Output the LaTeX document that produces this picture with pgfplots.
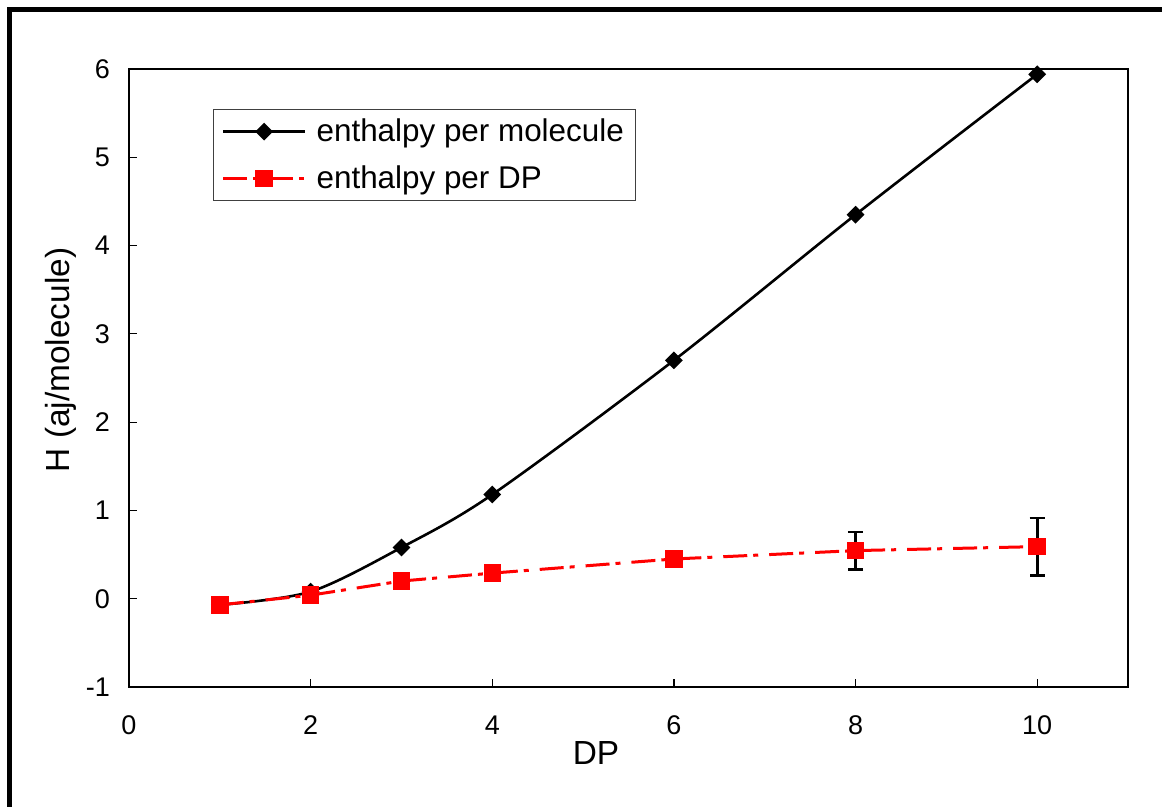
\documentclass[border=0pt]{standalone}
\usepackage{pgfplots}
\pgfplotsset{compat=1.18}
\usepackage{fontspec}
\setmainfont{Liberation Sans}
\begin{document}
\begin{tikzpicture}
\useasboundingbox (-64.5pt,-60pt) rectangle (516.5pt,343.5pt);
\draw[line width=2.5pt, line cap=rect] (-59.75pt,-70pt) -- (-59.75pt,338.5pt) -- (530pt,338.5pt);
\begin{axis}[
  at={(0,0)}, anchor=south west,
  scale only axis,
  width=499.5pt, height=309pt,
  xmin=0, xmax=11, ymin=-1, ymax=6,
  xtick={0,2,4,6,8,10},
  ytick={-1,0,1,2,3,4,5,6},
  xtick pos=bottom, ytick pos=left,
  tick align=inside,
  major tick length=4pt,
  tick style={black, line width=0.6pt},
  axis line style={line width=0.7pt},
  /pgf/number format/assume math mode=true,
  ticklabel style={font=\fontsize{13.5}{15}\selectfont},
  xticklabel style={yshift=-11pt},
  yticklabel style={xshift=-6pt},
  xlabel={DP},
  ylabel={H (aj/molecule)},
  every axis x label/.style={at={(axis description cs:0.4675,-0.076)}, anchor=north, font=\fontsize{16.7}{19}\selectfont},
  every axis y label/.style={at={(axis description cs:-0.046,0.529)}, anchor=south, rotate=90, font=\fontsize{16.7}{19}\selectfont},
  legend style={at={(0.0841,0.935)}, anchor=north west, draw=black!75, line width=0.6pt,
    font=\fontsize{15.7}{18}\selectfont, inner xsep=4pt, inner ysep=2.5pt, row sep=6.5pt},
  legend cell align=left,
  legend image code/.code={\draw[mark repeat=2,mark phase=2] plot coordinates {(3pt,0pt) (23.5pt,0pt) (44pt,0pt)}; \path (47pt,0pt);},
]
\addplot[black, line width=1.3pt, smooth, tension=0.5, mark=square*, mark size=2.5pt,
  mark options={rotate=45, solid, fill=black}]
  coordinates {(1,-0.07) (2,0.08) (3,0.58) (4,1.18) (6,2.70) (8,4.35) (10,5.94)};
\addlegendentry{enthalpy per molecule}
\addplot[red, line width=1.5pt, dash pattern=on 12pt off 3pt on 2.5pt off 5.5pt,
  mark=square*, mark size=3.6pt, mark options={solid, fill=red},
  error bars/.cd, y dir=both, y explicit,
  error bar style={black, line width=1.4pt, solid},
  error mark options={black, rotate=90, mark size=3.8pt, line width=1.4pt, solid}]
  coordinates {(1,-0.07) +- (0,0) (2,0.04) +- (0,0) (3,0.20) +- (0,0) (4,0.29) +- (0,0)
    (6,0.45) +- (0,0) (8,0.545) +- (0,0.21) (10,0.59) +- (0,0.325)};
\addlegendentry{enthalpy per DP}
\end{axis}
\end{tikzpicture}
\end{document}
